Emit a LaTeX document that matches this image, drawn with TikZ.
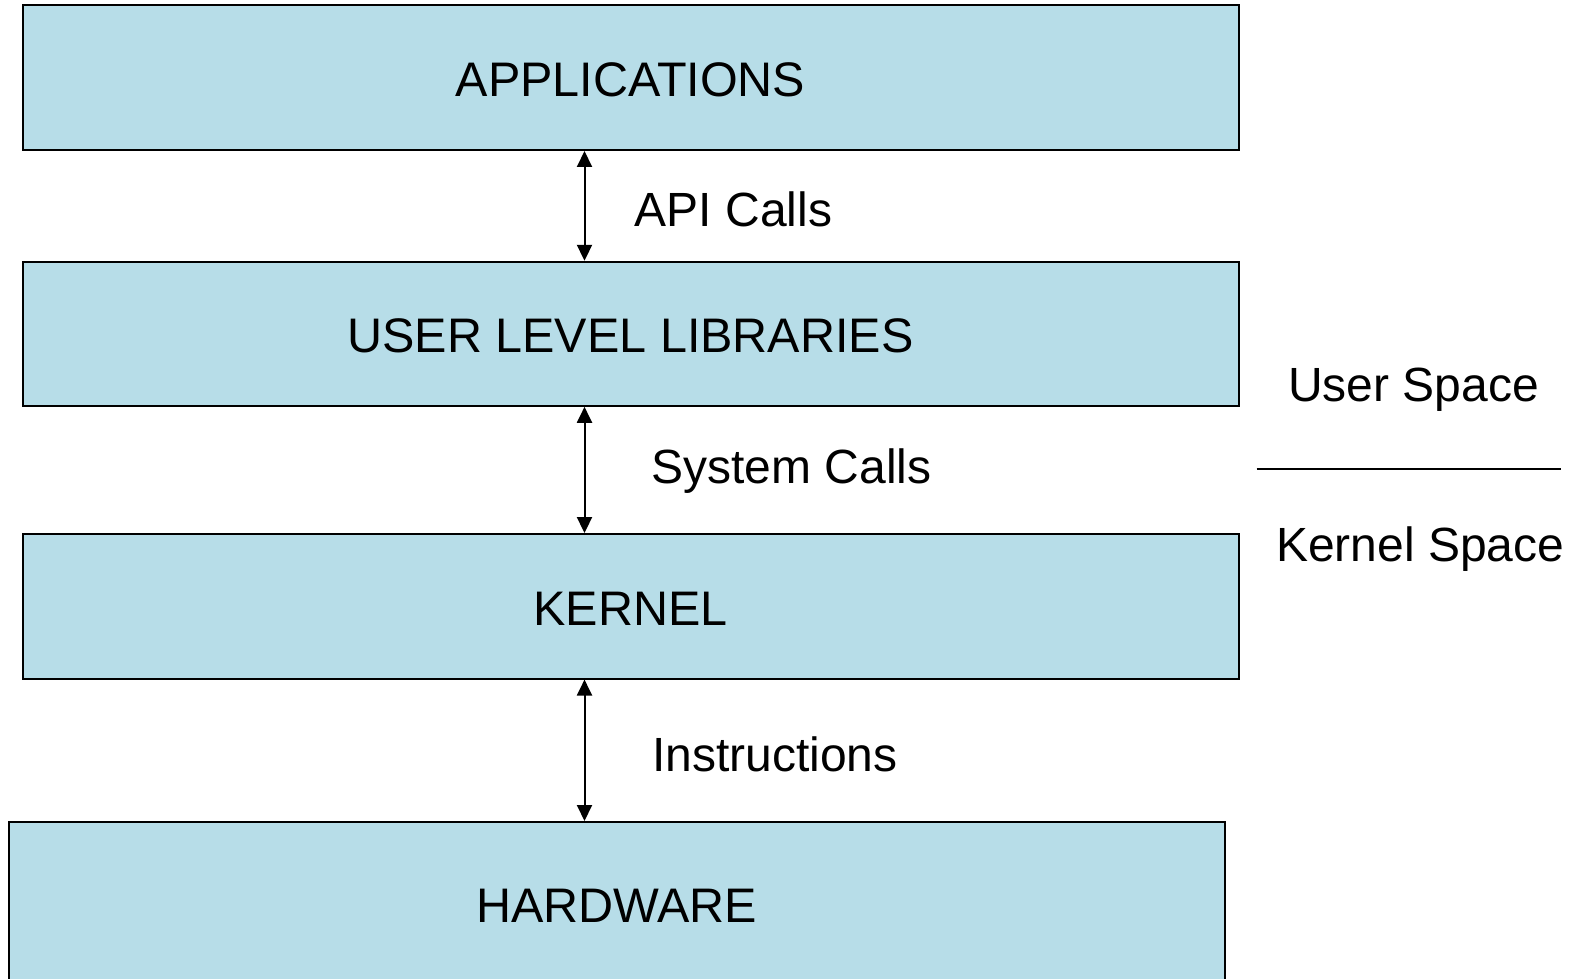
\documentclass[tikz,border=0pt]{standalone}
\usepackage{fontspec}
\setmainfont{Liberation Sans}
\usetikzlibrary{arrows.meta}
\definecolor{layerfill}{HTML}{B7DDE8}
\tikzset{
  layer/.style={draw=black, fill=layerfill, line width=2pt, rectangle, inner sep=0pt,
    minimum width=1216pt, text height=38pt, text depth=0pt,
    font=\fontsize{48.5}{58}\selectfont},
  iface/.style={draw=black, line width=2pt, {Triangle[width=15pt,length=16pt]}-{Triangle[width=15pt,length=16pt]}},
  lbl/.style={inner sep=0pt, anchor=base, font=\fontsize{48}{58}\selectfont},
}
\begin{document}
\begin{tikzpicture}[x=1pt,y=-1pt]
  \useasboundingbox (0,0) rectangle (1583,979);

  % software and hardware layers
  \node[layer, minimum height=144.5pt] (apps)   at (630.5,77.75)  {APPLICATIONS};
  \node[layer, minimum height=144pt]   (libs)   at (630.5,333.8)  {USER LEVEL LIBRARIES};
  \node[layer, minimum height=144.5pt] (kernel) at (630.5,606.3)  {KERNEL};
  \node[layer, minimum height=162pt]   (hw)     at (616.75,903)   {HARDWARE};

  % interfaces between layers
  \coordinate (ax) at (584.5,0);
  \draw[iface] (ax |- apps.south)   -- (ax |- libs.north);
  \draw[iface] (ax |- libs.south)   -- (ax |- kernel.north);
  \draw[iface] (ax |- kernel.south) -- (ax |- hw.north);

  \node[lbl] (api)  at (733.4,226.7) {API Calls};
  \node[lbl] (sys)  at (791.5,483.3) {System Calls};
  \node[lbl] (ins)  at (774.8,771.5) {Instructions};

  % user / kernel boundary
  \node[lbl] (us) at (1413.5,401) {User Space};
  \node[lbl] (ks) at (1420.2,561.7) {Kernel Space};
  \coordinate (bl) at (1256.7,469.3);
  \coordinate (br) at (1561,469.3);
  \draw[line width=2pt] (bl) -- (br);
\end{tikzpicture}
\end{document}
